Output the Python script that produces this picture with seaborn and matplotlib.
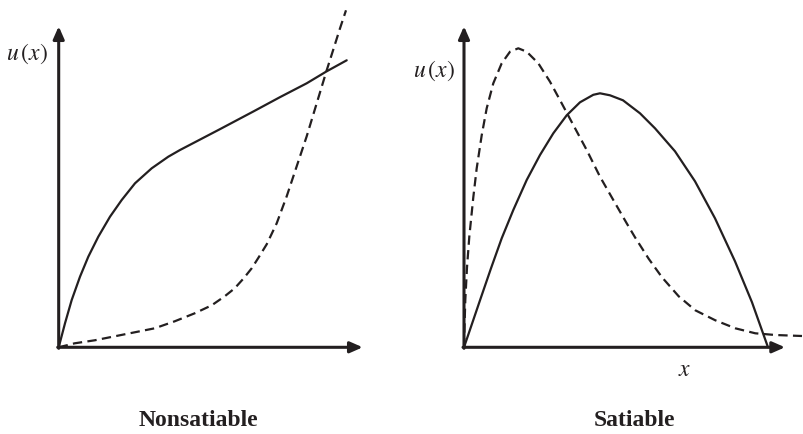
import numpy as np
import pandas as pd
import matplotlib
matplotlib.use("Agg")
import matplotlib.pyplot as plt
import seaborn as sns

# values (x and u(x) in arbitrary units, origin = 0,0)
nonsat_solid_x = [0, 0.63, 1.3, 2.13, 2.96, 3.96, 5.13, 6.3, 7.63, 9.3, 10.96, 12.13, 13.8, 16.1, 19.5, 22.1,
                  24.8, 26.8, 28.8]
nonsat_solid_u = [0, 2.4, 4.73, 7.06, 9.06, 11.06, 13.06, 14.73, 16.4, 17.9, 19.06, 19.73, 20.6, 21.8, 23.6, 25.0,
                  26.4, 27.6, 28.7]

nonsat_dash_x = [0, 1.6, 3.6, 5.6, 7.6, 9.6, 11.6, 13.6, 15.3, 16.6, 17.6, 18.5, 19.3, 20.0, 20.8, 21.8, 22.8,
                 23.8, 24.8, 25.8, 26.8, 27.5, 28.1, 28.73]
nonsat_dash_u = [0, 0.4, 0.7, 1.1, 1.5, 1.9, 2.6, 3.4, 4.2, 5.1, 5.9, 6.9, 7.9, 9.0, 10.3, 12.4, 15.1,
                 18.1, 21.1, 24.4, 27.7, 29.9, 31.8, 33.7]

sat_solid_x = [0, 1.6, 2.7, 3.77, 4.93, 6.27, 7.6, 8.93, 10.27, 11.6, 12.93, 13.6, 14.6, 15.9, 17.6, 19.1, 21.1,
               23.1, 25.1, 27.1, 28.8, 30.4]
sat_solid_u = [0, 4.7, 7.9, 10.9, 13.73, 16.73, 19.23, 21.4, 23.2, 24.5, 25.25, 25.4, 25.2, 24.7, 23.4, 21.9, 19.6,
               16.6, 12.9, 8.6, 4.5, 0]

sat_dash_x = [0, 0.05, 0.13, 0.3, 0.53, 0.93, 1.27, 1.77, 2.27, 2.93, 3.77, 4.6, 5.43, 6.27, 7.43, 8.6, 9.77,
              10.93, 12.27, 13.6, 14.93, 16.27, 17.1, 18.47, 19.8, 21.47, 23.13, 25.13, 27.13, 29.13, 31.13, 33.8]
sat_dash_u = [0, 2.0, 4.73, 8.0, 11.06, 15.0, 17.9, 21.2, 23.9, 26.4, 28.4, 29.56, 29.9, 29.56, 28.4, 26.56,
              24.4, 22.23, 19.73, 17.06, 14.73, 12.4, 11.0, 8.85, 7.0, 5.1, 3.7, 2.7, 1.9, 1.4, 1.23, 1.13]

panel_titles = ["Nonsatiable", "Satiable"]

ink = "#231f20"

sns.set_style("white")
plt.rcParams['font.family'] = ['Liberation Serif', 'DejaVu Serif']
plt.rcParams['mathtext.fontset'] = 'stix'

fig = plt.figure(figsize=(8.04, 4.34), dpi=100)
W, H = 804, 434

# axes placed so 1 data unit = 10 px
ax1 = fig.add_axes([8.7 / W, 66.7 / H, 370 / W, 365 / H])
ax1.set_xlim(-5, 32)
ax1.set_ylim(-2, 34.5)
ax2 = fig.add_axes([434 / W, 66.7 / H, 370 / W, 365 / H])
ax2.set_xlim(-3, 34)
ax2.set_ylim(-2, 34.5)

dash = (0, (4.2, 2.4))

sns.lineplot(x=nonsat_solid_x, y=nonsat_solid_u, ax=ax1, color=ink, lw=1.6, sort=False, estimator=None)
sns.lineplot(x=nonsat_dash_x, y=nonsat_dash_u, ax=ax1, color=ink, lw=1.6, sort=False, estimator=None, linestyle=dash)
sns.lineplot(x=sat_solid_x, y=sat_solid_u, ax=ax2, color=ink, lw=1.6, sort=False, estimator=None)
sns.lineplot(x=sat_dash_x, y=sat_dash_u, ax=ax2, color=ink, lw=1.6, sort=False, estimator=None, linestyle=dash)

arrow = dict(arrowstyle='-|>,head_length=0.75,head_width=0.33', mutation_scale=10,
             lw=2.2, color=ink, shrinkA=0, shrinkB=0)
for ax, xtip in [(ax1, 30.4), (ax2, 32.1)]:
    for ln in ax.lines:
        ln.set_clip_on(False)
        ln.set_solid_joinstyle('round')
        ln.set_dash_joinstyle('round')
    ax.annotate("", xy=(xtip, 0), xytext=(-0.1, 0), arrowprops=arrow, annotation_clip=False)
    ax.annotate("", xy=(0, 32.1), xytext=(0, -0.1), arrowprops=arrow, annotation_clip=False)
    ax.axis('off')

ax1.text(-3.2, 29.4, r"$u\,(x)$", fontsize=17, ha='center', va='center', color=ink)
ax2.text(-3.0, 27.7, r"$u\,(x)$", fontsize=17, ha='center', va='center', color=ink)
ax2.text(22.1, -2.3, r"$x$", fontsize=17, ha='center', va='center', color=ink)

fig.text(198 / W, 1 - 421 / H, panel_titles[0], fontsize=17, fontweight='bold', ha='center', va='center', color=ink)
fig.text(634 / W, 1 - 421 / H, panel_titles[1], fontsize=17, fontweight='bold', ha='center', va='center', color=ink)

fig.savefig("out.png", dpi=100)
